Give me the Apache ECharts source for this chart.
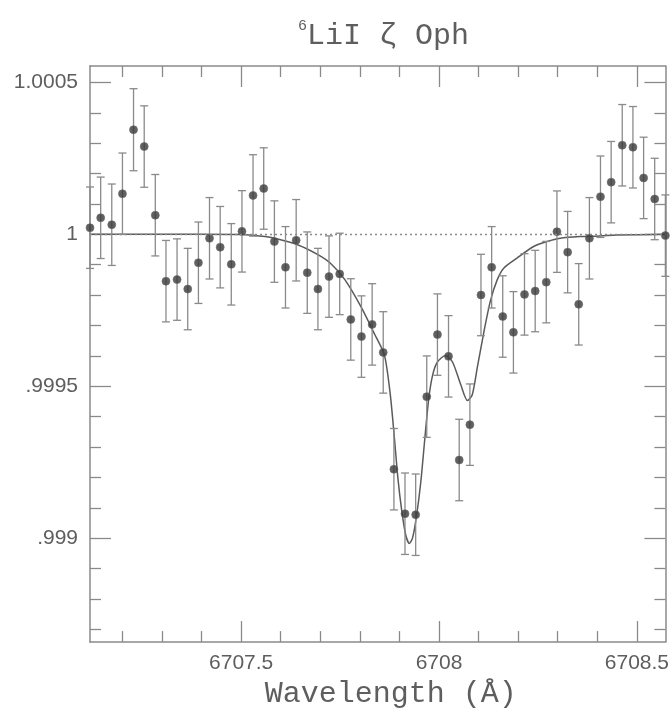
<!DOCTYPE html>
<html><head><meta charset="utf-8">
<script src="https://cdn.jsdelivr.net/npm/echarts@6/dist/echarts.min.js"></script>
<style>html,body{margin:0;padding:0;background:#fff}#c{width:672px;height:714px}</style>
</head><body><div id="c"></div>
<script>
// Observed spectrum (wavelength in Å, normalized flux, 1-sigma error)
const wavelength = [6707.118,6707.145,6707.173,6707.200,6707.228,6707.255,6707.283,6707.310,6707.338,6707.365,
  6707.392,6707.420,6707.447,6707.475,6707.502,6707.530,6707.557,6707.584,6707.612,6707.639,
  6707.667,6707.694,6707.722,6707.749,6707.777,6707.804,6707.831,6707.859,6707.886,6707.914,
  6707.941,6707.969,6707.996,6708.024,6708.051,6708.078,6708.106,6708.133,6708.161,6708.188,
  6708.216,6708.243,6708.271,6708.298,6708.325,6708.353,6708.380,6708.408,6708.435,6708.463,
  6708.490,6708.517,6708.545,6708.572];
const flux = [1.0000218,1.0000544,1.0000316,1.0001336,1.0003443,1.0002889,1.0000629,0.9998459,0.9998511,0.9998199,
  0.9999065,0.9999870,0.9999577,0.9999013,1.0000098,1.0001280,1.0001508,0.9999762,0.9998915,0.9999805,
  0.9998739,0.9998199,0.9998609,0.9998697,0.9997199,0.9996635,0.9997036,0.9996114,0.9992270,0.9990805,
  0.9990772,0.9994658,0.9996700,0.9995984,0.9992573,0.9993736,0.9998003,0.9998915,0.9997296,0.9996775,
  0.9998023,0.9998134,0.9998427,1.0000088,0.9999414,0.9997697,0.9999870,1.0001238,1.0001717,1.0002932,
  1.0002866,1.0001857,1.0001163,0.9999958];
const fluxErr = [0.000134,0.000134,0.000134,0.000134,0.000135,0.000134,0.000134,0.000134,0.000134,0.000134,
  0.000134,0.000134,0.000134,0.000134,0.000134,0.000134,0.000134,0.000134,0.000134,0.000134,
  0.000134,0.000134,0.000134,0.000134,0.000134,0.000134,0.000134,0.000134,0.000134,0.000134,
  0.000134,0.000134,0.000134,0.000134,0.000134,0.000134,0.000134,0.000134,0.000134,0.000134,
  0.000134,0.000134,0.000134,0.000134,0.000134,0.000134,0.000134,0.000134,0.000134,0.000134,
  0.000134,0.000134,0.000134,0.000134];
// Model fit curve
const fitWavelength = [6707.118,6707.393,6707.511,6707.561,6707.594,6707.644,6707.695,6707.725,6707.762,6707.804,
  6707.837,6707.862,6707.876,6707.886,6707.896,6707.906,6707.916,6707.925,6707.933,6707.943,
  6707.954,6707.964,6707.974,6707.984,6707.996,6708.016,6708.034,6708.055,6708.072,6708.084,
  6708.097,6708.114,6708.130,6708.147,6708.164,6708.197,6708.239,6708.273,6708.306,6708.356,
  6708.406,6708.449,6708.572];
const fitFlux = [1.0,1.0,0.999999,0.9999925,0.9999837,0.9999651,0.9999326,0.9999055,0.9998511,0.9997590,
  0.9996720,0.9996026,0.9994821,0.9993485,0.9991987,0.9990879,0.9990098,0.9989827,0.9990000,0.9990717,
  0.9991857,0.9993257,0.9994593,0.9995375,0.9995798,0.9996010,0.9995798,0.9995049,0.9994528,0.9994723,
  0.9995635,0.9996831,0.9997818,0.9998502,0.9998893,0.9999218,0.9999599,0.9999762,0.9999870,0.9999925,
  0.9999945,0.9999977,1.0];
const continuumLevel = 1;
// Axes
const xRange = [6707.118, 6708.572];
const yRange = [0.998658, 1.000554];
const xMajorTicks = [6707.5, 6708, 6708.5];
const xTickLabels = ['6707.5', '6708', '6708.5'];
const xMinorTicks = [6707.2,6707.3,6707.4,6707.6,6707.7,6707.8,6707.9,6708.1,6708.2,6708.3,6708.4];
const yMajorTicks = [0.999, 0.9995, 1, 1.0005];
const yTickLabels = ['.999', '.9995', '1', '1.0005'];
const yMinorTicks = [0.9987,0.9988,0.9989,0.9991,0.9992,0.9993,0.9994,0.9996,0.9997,0.9998,0.9999,1.0001,1.0002,1.0003,1.0004];
const titleMain = 'LiI ζ Oph';
const titleSup = '6';
const xName = 'Wavelength (Å)';

const axisColor = '#8a8a8a';
const textColor = '#5e5e5e';
function labelFor(ticks, labels) {
  return function (v) {
    for (let i = 0; i < ticks.length; i++) if (Math.abs(v - ticks[i]) < 1e-9) return labels[i];
    return '';
  };
}
function makeAxis(range, position, ticks, len, showLine, labelOpt) {
  return {
    type: 'value', min: range[0], max: range[1], position: position,
    splitLine: { show: false },
    axisLine: { show: showLine, onZero: false, lineStyle: { color: axisColor, width: 1.5 } },
    axisTick: { show: true, inside: true, length: len, customValues: ticks, lineStyle: { color: axisColor, width: 1.3 } },
    axisLabel: labelOpt || { show: false }
  };
}
const xLabelOpt = { show: true, customValues: xMajorTicks, formatter: labelFor(xMajorTicks, xTickLabels),
  margin: 11, color: textColor, fontFamily: 'Liberation Sans', fontSize: 21 };
const yLabelOpt = { show: true, customValues: yMajorTicks, formatter: labelFor(yMajorTicks, yTickLabels),
  margin: 12, color: textColor, fontFamily: 'Liberation Sans', fontSize: 21 };

const xAxes = [
  makeAxis(xRange, 'bottom', xMajorTicks, 21, true, xLabelOpt),
  makeAxis(xRange, 'bottom', xMinorTicks, 11, false),
  makeAxis(xRange, 'top', xMajorTicks, 21, true),
  makeAxis(xRange, 'top', xMinorTicks, 11, false)
];
Object.assign(xAxes[0], {
  name: xName, nameLocation: 'middle', nameGap: 36,
  nameTextStyle: { fontFamily: 'Liberation Mono', fontSize: 30, color: textColor, padding: [0, 0, 0, 26] }
});
const yAxes = [
  makeAxis(yRange, 'left', yMajorTicks, 21, true, yLabelOpt),
  makeAxis(yRange, 'left', yMinorTicks, 11, false),
  makeAxis(yRange, 'right', yMajorTicks, 21, true),
  makeAxis(yRange, 'right', yMinorTicks, 11, false)
];

const points = wavelength.map((w, i) => [w, flux[i]]);
const errData = wavelength.map((w, i) => [w, flux[i] - fluxErr[i], flux[i] + fluxErr[i]]);
const fitData = fitWavelength.map((w, i) => [w, fitFlux[i]]);

const chart = echarts.init(document.getElementById('c'), null, { renderer: 'canvas' });
chart.setOption({
  backgroundColor: '#fff',
  animation: false,
  title: {
    text: '{s|' + titleSup + '}{m|' + titleMain + '}',
    left: 293, top: 14,
    textStyle: {
      fontWeight: 'normal',
      rich: {
        s: { fontFamily: 'Liberation Mono', fontSize: 15, fontWeight: 'normal', color: textColor, verticalAlign: 'top', lineHeight: 34 },
        m: { fontFamily: 'Liberation Mono', fontSize: 30, fontWeight: 'normal', color: textColor, lineHeight: 34 }
      }
    }
  },
  grid: { left: 90, right: 3, top: 66, bottom: 66 },
  xAxis: xAxes,
  yAxis: yAxes,
  series: [
    {
      type: 'line', data: fitData, showSymbol: false, smooth: 0.25, z: 2,
      lineStyle: { color: '#5a5a5a', width: 1.5 },
      markLine: {
        silent: true, symbol: ['none', 'none'], label: { show: false },
        lineStyle: { color: '#8a8a8a', type: [2, 3], width: 1.3 },
        data: [{ yAxis: continuumLevel }]
      }
    },
    {
      type: 'custom', data: errData, z: 3, clip: false,
      renderItem: function (params, api) {
        const x = api.value(0);
        const lo = api.coord([x, api.value(1)]);
        const hi = api.coord([x, api.value(2)]);
        const cap = 4;
        const style = { stroke: '#8a8a8a', lineWidth: 1.3 };
        return {
          type: 'group', children: [
            { type: 'line', shape: { x1: lo[0], y1: lo[1], x2: hi[0], y2: hi[1] }, style: style },
            { type: 'line', shape: { x1: lo[0] - cap, y1: lo[1], x2: lo[0] + cap, y2: lo[1] }, style: style },
            { type: 'line', shape: { x1: hi[0] - cap, y1: hi[1], x2: hi[0] + cap, y2: hi[1] }, style: style }
          ]
        };
      }
    },
    {
      type: 'scatter', data: points, symbol: 'circle', symbolSize: 8, z: 4, clip: false,
      itemStyle: { color: '#383838', borderColor: '#6a6a6a', borderWidth: 0.8 }
    }
  ]
});
</script>
</body></html>
